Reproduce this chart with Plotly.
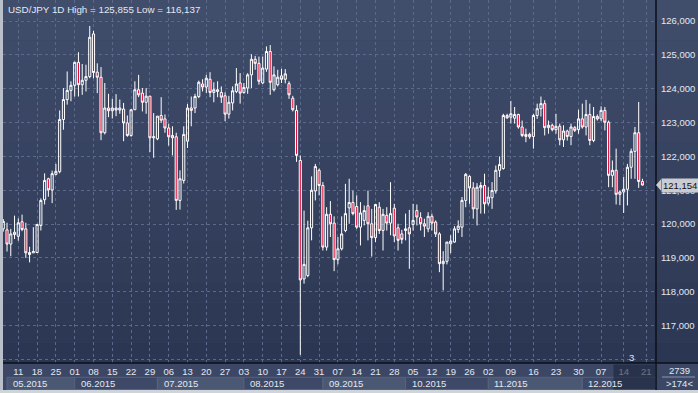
import numpy as np
import pandas as pd
import plotly.graph_objects as go

# ---------------- data (USD/JPY daily) ----------------
opens = [119.86, 119.83, 119.41, 119.69, 119.64, 120.07, 119.86, 119.10, 119.15, 119.16,
         119.96, 120.72, 121.34, 121.01, 121.47, 121.55, 123.09, 123.68, 123.95, 124.10,
         124.78, 124.12, 124.25, 124.36, 125.62, 124.49, 124.34, 122.70, 123.43, 123.35,
         123.43, 123.37, 123.40, 122.99, 122.62, 123.38, 123.97, 123.87, 123.60, 123.78,
         122.55, 122.52, 123.21, 123.11, 122.84, 122.62, 122.58, 120.70, 121.29, 122.45,
         123.43, 123.43, 123.77, 124.14, 124.05, 124.28, 123.89, 123.97, 123.89, 123.79,
         123.25, 123.58, 123.92, 124.17, 123.89, 124.02, 124.41, 124.87, 124.75, 124.17,
         124.58, 125.10, 123.97, 124.12, 124.38, 124.28, 124.15, 123.72, 123.36, 121.88,
         118.38, 118.48, 119.89, 120.98, 121.59, 121.14, 119.32, 120.29, 120.03, 118.95,
         119.27, 119.81, 120.48, 120.64, 120.52, 119.91, 120.11, 120.54, 120.01, 119.60,
         120.50, 119.81, 120.26, 120.03, 120.47, 119.89, 119.71, 119.81, 119.89, 119.99,
         120.40, 120.19, 120.01, 119.86, 120.23, 120.06, 119.71, 118.83, 118.90, 119.42,
         119.47, 119.84, 119.91, 120.70, 121.41, 121.07, 120.45, 121.07, 121.14, 120.62,
         120.78, 120.98, 121.59, 121.64, 123.21, 123.16, 123.13, 123.24, 122.87, 122.65,
         122.65, 122.59, 123.21, 123.41, 123.56, 122.85, 122.92, 122.79, 122.89, 122.49,
         122.75, 122.59, 122.85, 122.79, 123.11, 122.87, 123.24, 122.47, 123.18, 123.11,
         123.36, 123.01, 121.44, 121.59, 120.88, 120.95, 121.03, 121.68, 122.15, 122.70,
         121.26]
highs = [120.15, 120.04, 119.86, 120.25, 120.17, 120.28, 120.04, 119.33, 119.91, 120.00,
         120.76, 121.50, 121.37, 121.58, 121.78, 123.36, 124.02, 124.51, 124.22, 124.80,
         125.08, 124.73, 124.71, 125.855, 125.71, 124.75, 124.64, 124.17, 123.85, 123.70,
         123.84, 123.68, 123.58, 123.21, 123.38, 124.22, 124.41, 124.02, 124.02, 123.79,
         123.28, 123.19, 123.75, 123.24, 122.97, 122.89, 122.70, 121.59, 122.89, 123.55,
         123.77, 123.85, 124.24, 124.28, 124.41, 124.49, 124.19, 124.22, 124.07, 123.89,
         123.79, 124.07, 124.61, 124.46, 124.17, 124.46, 125.02, 124.97, 124.95, 124.95,
         125.25, 125.29, 124.66, 124.56, 124.59, 124.58, 124.22, 123.79, 123.51, 122.03,
         120.40, 120.10, 121.41, 121.78, 121.64, 121.24, 120.50, 120.68, 120.23, 119.62,
         120.23, 121.19, 121.34, 120.99, 120.85, 120.65, 120.55, 120.99, 120.45, 120.60,
         120.65, 120.45, 120.50, 121.24, 120.60, 120.01, 119.83, 120.31, 120.42, 120.60,
         120.58, 120.35, 120.16, 120.35, 120.31, 120.11, 119.76, 119.20, 119.47, 119.67,
         119.94, 120.11, 120.80, 121.51, 121.44, 121.24, 121.21, 121.24, 121.49, 121.09,
         121.24, 121.73, 122.00, 123.26, 123.26, 123.64, 123.46, 123.26, 123.06, 122.82,
         122.70, 123.26, 123.56, 123.77, 123.66, 123.06, 122.97, 123.26, 122.97, 122.92,
         122.79, 122.97, 122.90, 123.38, 123.56, 123.67, 123.56, 123.46, 123.24, 123.48,
         123.46, 123.06, 121.88, 122.23, 121.00, 121.39, 121.78, 122.23, 122.87, 123.61,
         121.34]
lows = [119.78, 119.19, 119.05, 119.56, 119.51, 119.79, 119.00, 118.87, 119.15, 119.16,
        119.81, 120.58, 120.81, 120.62, 121.44, 121.50, 122.79, 123.53, 123.63, 123.77,
        123.77, 123.82, 123.92, 124.31, 124.31, 123.87, 122.48, 122.65, 123.16, 123.12,
        123.19, 123.26, 122.45, 122.58, 122.58, 123.38, 123.75, 123.33, 123.26, 122.13,
        121.96, 122.48, 122.99, 122.70, 122.32, 122.03, 120.42, 120.43, 121.20, 122.25,
        122.89, 123.28, 123.72, 123.92, 123.87, 123.75, 123.60, 123.75, 123.58, 123.04,
        123.12, 123.36, 123.87, 123.56, 123.85, 123.85, 124.02, 124.56, 124.12, 124.14,
        124.50, 123.82, 123.92, 124.07, 124.17, 124.16, 123.70, 123.33, 121.84, 116.137,
        118.24, 118.43, 119.52, 120.70, 120.85, 119.22, 119.22, 119.62, 118.61, 118.81,
        119.22, 119.76, 120.01, 120.26, 119.86, 119.37, 119.96, 119.52, 119.04, 119.47,
        119.71, 119.22, 119.81, 119.67, 119.47, 119.22, 119.42, 119.52, 118.68, 119.81,
        119.96, 119.81, 119.62, 119.76, 119.81, 119.62, 118.58, 118.04, 118.81, 119.14,
        119.45, 119.74, 119.62, 120.50, 120.60, 120.16, 119.96, 120.31, 120.31, 120.55,
        120.45, 120.90, 121.39, 121.61, 123.11, 122.97, 122.97, 122.82, 122.57, 122.42,
        122.52, 122.23, 123.11, 123.18, 122.62, 122.67, 122.74, 122.67, 122.33, 122.28,
        122.47, 122.33, 122.72, 122.67, 122.82, 122.62, 122.33, 122.42, 123.06, 123.04,
        122.77, 121.09, 121.09, 120.58, 120.56, 120.33, 120.55, 121.34, 121.34, 121.07,
        121.14]
closes = [120.08, 119.41, 119.71, 119.76, 120.04, 119.84, 119.15, 119.16, 119.19, 119.99,
          120.70, 121.29, 121.01, 121.49, 121.56, 123.09, 123.68, 123.95, 124.10, 124.78,
          124.12, 124.25, 124.36, 125.52, 124.48, 124.34, 122.70, 123.43, 123.35, 123.43,
          123.37, 123.43, 122.99, 122.62, 123.38, 123.97, 123.82, 123.60, 123.78, 122.55,
          122.58, 123.19, 123.07, 122.84, 122.58, 122.55, 120.70, 121.34, 122.65, 123.43,
          123.36, 123.77, 124.19, 124.05, 124.31, 123.89, 123.97, 123.92, 123.75, 123.25,
          123.60, 123.94, 124.14, 123.87, 124.04, 124.41, 124.87, 124.75, 124.22, 124.61,
          125.10, 124.19, 124.41, 124.34, 124.28, 124.44, 123.82, 123.38, 122.03, 118.35,
          118.81, 119.89, 121.00, 121.70, 121.14, 119.32, 120.29, 120.01, 118.95, 119.27,
          119.71, 120.31, 120.64, 120.31, 119.91, 120.33, 120.40, 120.01, 119.60, 120.58,
          119.81, 120.29, 120.03, 120.31, 119.65, 119.52, 119.55, 119.86, 119.71, 120.11,
          120.21, 120.01, 119.94, 120.23, 120.03, 119.71, 118.83, 118.90, 119.47, 119.50,
          119.86, 119.94, 120.70, 121.47, 121.07, 120.45, 121.09, 121.14, 120.60, 120.80,
          120.99, 121.59, 121.76, 123.21, 123.14, 123.26, 123.24, 122.87, 122.62, 122.59,
          122.58, 123.21, 123.41, 123.56, 122.85, 122.92, 122.79, 122.89, 122.49, 122.75,
          122.59, 122.87, 122.77, 123.11, 122.87, 123.24, 122.47, 123.18, 123.11, 123.36,
          123.01, 121.44, 121.59, 120.88, 120.95, 121.03, 121.68, 122.15, 122.70, 121.26,
          121.154]

price_ticks = [116, 117, 118, 119, 120, 121, 122, 123, 124, 125, 126]
price_labels = ["" if v == 116 else f"{v:.3f}".replace(".", ",") for v in price_ticks]

# trading sessions: weekdays, plus the Sunday sessions that appear from November on
weekdays = pd.bdate_range("2015-05-05", "2015-12-18")
sunday_sessions = pd.date_range("2015-11-08", "2015-12-20", freq="W-SUN")
dates = weekdays.union(sunday_sessions)
slots = dates.append(pd.DatetimeIndex(["2015-12-21", "2015-12-22", "2015-12-23"]))
idx = list(range(len(dates)))

tick_pos = [i for i, d in enumerate(slots) if d.weekday() == 0]
tick_text = [f"{slots[i].day:02d}" for i in tick_pos]

month_starts = [i for i, d in enumerate(dates) if i == 0 or d.month != dates[i - 1].month]
month_names = [f"{dates[i].month:02d}.{dates[i].year}" for i in month_starts]

# ---------------- styling constants ----------------
W, H = 698, 393
ML, MR, MT, MB = 3, 42, 0, 30
PW, PH = W - ML - MR, H - MT - MB
BAR_PX = 3.76
X0 = 4 - (18.3 - ML) / BAR_PX
X1 = X0 + PW / BAR_PX
Y0, Y1 = 115.896, 126.622

FONT = "Liberation Sans, Arial, sans-serif"
TXT = "#e3e8f1"
GRID = "#5b6a8a"
RED = "#e00f3a"


def px_x(p):  # pixel -> paper x
    return (p - ML) / PW


def px_y(p):  # pixel -> paper y
    return (H - MB - p) / PH


fig = go.Figure()

fig.add_trace(go.Candlestick(
    x=idx, open=opens, high=highs, low=lows, close=closes,
    increasing=dict(line=dict(color="#ffffff", width=1), fillcolor="rgba(0,0,0,0)"),
    decreasing=dict(line=dict(color="#ffffff", width=1), fillcolor=RED),
    whiskerwidth=0, showlegend=False, hoverinfo="skip",
))

shapes = []
# background gradient (plot + right price panel)
top = np.array([0x41, 0x4e, 0x6c])
bot = np.array([0x2b, 0x36, 0x52])
nb = 18
for b in range(nb):
    c = top + (bot - top) * (b + 0.5) / nb
    shapes.append(dict(type="rect", xref="paper", yref="paper",
                       x0=px_x(0), x1=px_x(W), y0=1 - (b + 1) / nb, y1=1 - b / nb,
                       fillcolor="rgb(%d,%d,%d)" % tuple(c.astype(int)), line_width=0, layer="below"))

# month boxes
for j, s in enumerate(month_starts):
    x0 = s if s > 0 else X0 + 1.05
    x1 = month_starts[j + 1] if j + 1 < len(month_starts) else X1
    shapes.append(dict(type="rect", xref="x", yref="paper", x0=x0, x1=x1,
                       y0=px_y(389.5), y1=px_y(377.3),
                       fillcolor="#4b5874" if j % 2 == 0 else "#3d4967",
                       line=dict(color="#56637f", width=1), layer="below"))

# frame lines
shapes.append(dict(type="line", xref="paper", yref="paper", x0=px_x(0), x1=px_x(W),
                   y0=0, y1=0, line=dict(color="#0b0f18", width=1.5)))
shapes.append(dict(type="line", xref="paper", yref="paper", x0=1, x1=1,
                   y0=px_y(H), y1=1, line=dict(color="#0b0f18", width=1.5)))
# window borders
shapes.append(dict(type="rect", xref="paper", yref="paper", x0=px_x(0), x1=px_x(3),
                   y0=px_y(H), y1=1, fillcolor="#b9c0cc", line_width=0))
shapes.append(dict(type="rect", xref="paper", yref="paper", x0=px_x(0), x1=px_x(W),
                   y0=px_y(H), y1=px_y(390), fillcolor="#cfd3da", line_width=0))
# separator in the bottom-right box
shapes.append(dict(type="line", xref="paper", yref="paper", x0=px_x(662), x1=px_x(695),
                   y0=px_y(377), y1=px_y(377), line=dict(color="#8b95aa", width=1)))
# current-week highlight on the time axis
shapes.append(dict(type="rect", xref="x", yref="paper", x0=tick_pos[-2] - 2.7, x1=X1,
                   y0=px_y(389.5), y1=px_y(364.5), fillcolor="rgba(28,36,56,0.6)", line_width=0))
# price callout arrow
shapes.append(dict(type="path", xref="paper", yref="y",
                   path=f"M {px_x(656)},{closes[-1]} L {px_x(661)},{closes[-1] + 0.17} "
                        f"L {px_x(661)},{closes[-1] - 0.17} Z",
                   fillcolor="#c9ccd3", line_width=0))

annotations = []
annotations.append(dict(xref="paper", yref="paper", x=px_x(6), y=px_y(10), xanchor="left",
                        yanchor="middle", showarrow=False,
                        text=f"USD/JPY 1D High = {max(highs):.3f}".replace(".", ",")
                             + f" Low = {min(lows):.3f}".replace(".", ","),
                        font=dict(family=FONT, size=9.8, color=TXT)))
for s, name in zip(month_starts, month_names):
    xs = (s if s > 0 else X0 + 1.05) + 1.1
    annotations.append(dict(xref="x", yref="paper", x=xs, y=px_y(383), xanchor="left",
                            yanchor="middle", showarrow=False, text=name,
                            font=dict(family=FONT, size=9.5, color=TXT)))
annotations.append(dict(xref="paper", yref="y", x=px_x(661), y=closes[-1], xanchor="left",
                        yanchor="middle", showarrow=False,
                        text=f"{closes[-1]:.3f}".replace(".", ","),
                        bgcolor="#c9ccd3", borderpad=1,
                        font=dict(family=FONT, size=9.5, color="#111111")))
annotations.append(dict(xref="paper", yref="paper", x=px_x(679), y=px_y(370), xanchor="center",
                        yanchor="middle", showarrow=False, text="2739",
                        font=dict(family=FONT, size=9.5, color=TXT)))
annotations.append(dict(xref="paper", yref="paper", x=px_x(679), y=px_y(383.5), xanchor="center",
                        yanchor="middle", showarrow=False, text="&gt;174&lt;",
                        font=dict(family=FONT, size=9.5, color=TXT)))
annotations.append(dict(xref="paper", yref="paper", x=px_x(631), y=px_y(357), xanchor="center",
                        yanchor="middle", showarrow=False, text="3",
                        font=dict(family=FONT, size=9.5, color=TXT)))
annotations.append(dict(xref="paper", yref="paper", x=px_x(640), y=px_y(359), xanchor="center",
                        yanchor="middle", showarrow=False, text="▲",
                        font=dict(family=FONT, size=8, color="#2a3450")))

fig.update_layout(
    width=W, height=H,
    margin=dict(l=ML, r=MR, t=MT, b=MB, pad=0),
    paper_bgcolor="#3b4765",
    plot_bgcolor="rgba(0,0,0,0)",
    boxgap=0.25, boxgroupgap=0.25,
    showlegend=False, hovermode=False,
    shapes=shapes, annotations=annotations,
    font=dict(family=FONT, size=9.5, color=TXT),
    xaxis=dict(range=[X0, X1], tickmode="array", tickvals=tick_pos, ticktext=tick_text,
               showgrid=True, gridcolor=GRID, griddash="3px,3px", gridwidth=1,
               zeroline=False, showline=False, ticks="", ticklabelstandoff=1,
               tickfont=dict(family=FONT, size=9.5, color=TXT),
               rangeslider=dict(visible=False), fixedrange=True),
    yaxis=dict(range=[Y0, Y1], side="right", tickmode="array", tickvals=price_ticks,
               ticktext=price_labels, showgrid=True, gridcolor=GRID, griddash="3px,3px",
               gridwidth=1, zeroline=False, showline=False, ticks="", ticklabelstandoff=4,
               tickfont=dict(family=FONT, size=9.5, color=TXT), fixedrange=True),
)

fig.write_html("out.html")
